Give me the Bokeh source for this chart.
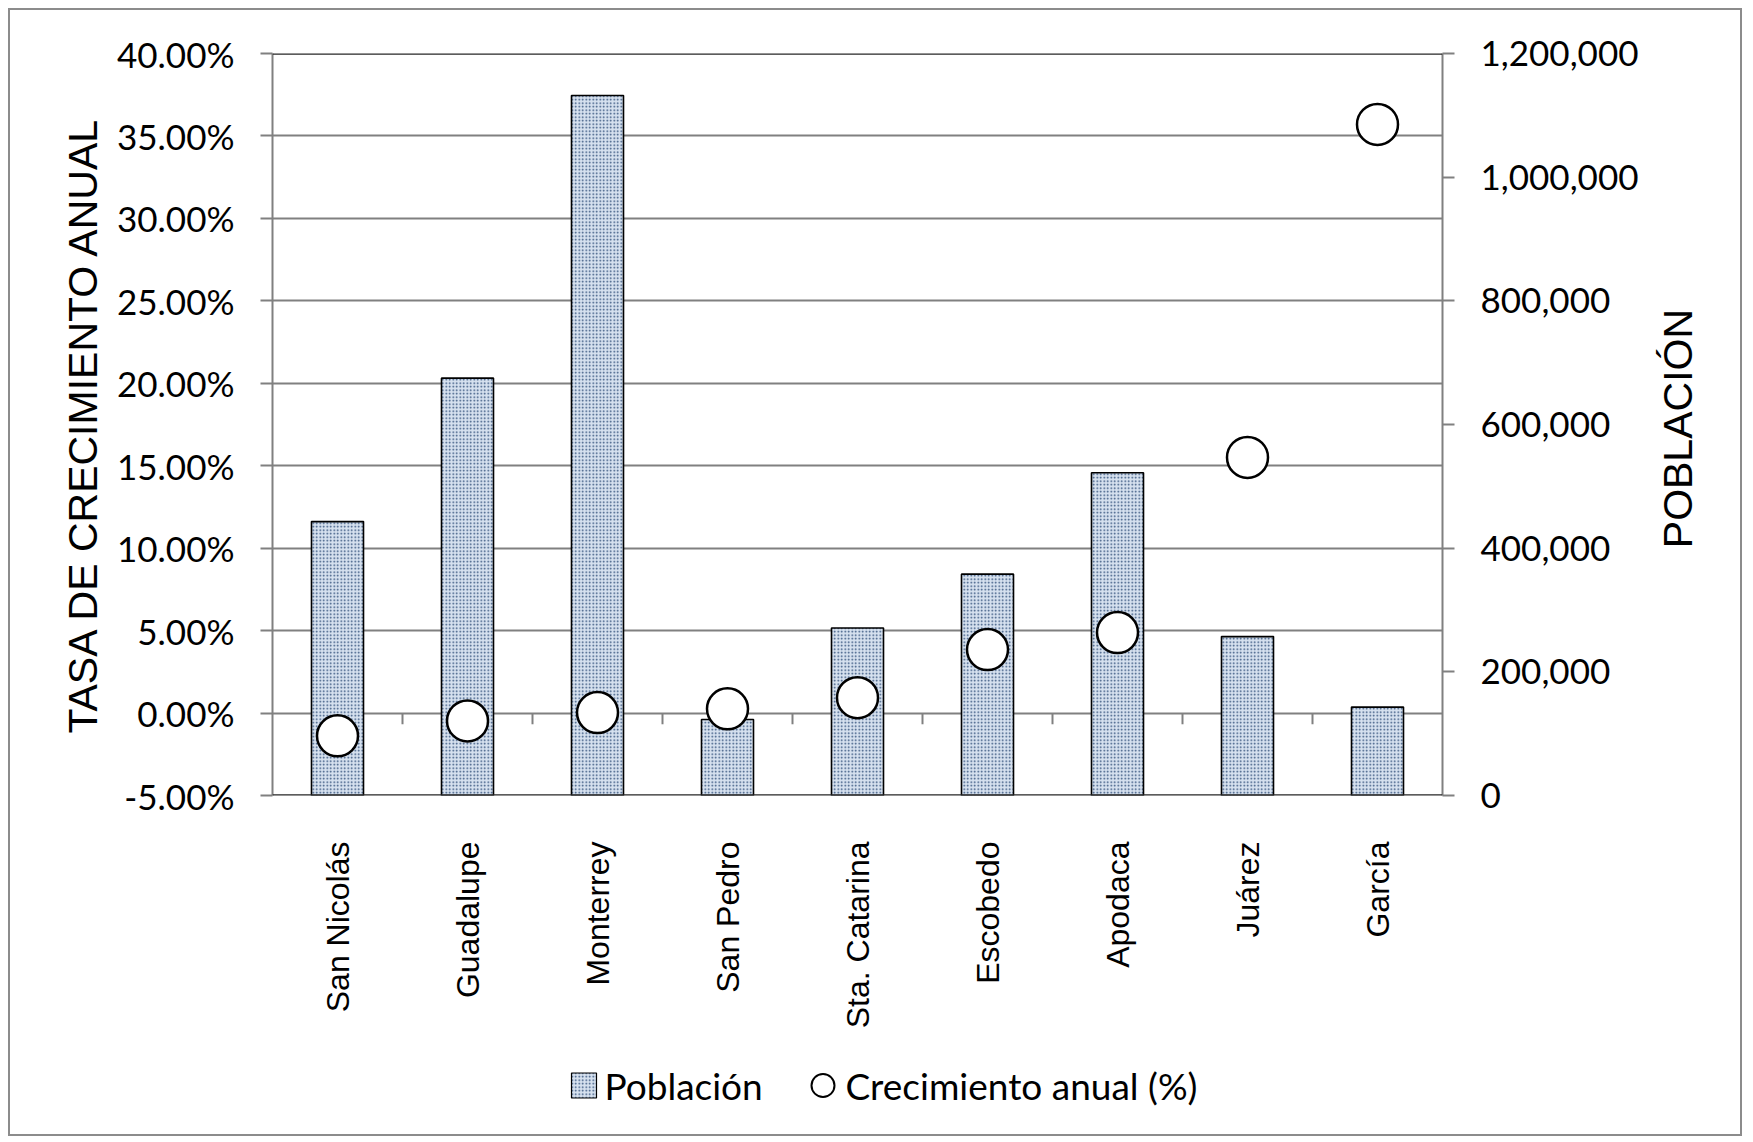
import math
from bokeh.plotting import figure
from bokeh.layouts import column, row
from bokeh.models import (Range1d, LinearAxis, FactorRange, FixedTicker,
                          NumeralTickFormatter, Span)
from bokeh.core.properties import value
from bokeh.embed import file_html
from bokeh.resources import INLINE

municipios = ["San Nicolás", "Guadalupe", "Monterrey", "San Pedro", "Sta. Catarina",
              "Escobedo", "Apodaca", "Juárez", "García"]
poblacion = [443000, 675000, 1132000, 123000, 271000, 358000, 522000, 257000, 143000]
crecimiento = [-0.0138, -0.0048, 0.0003, 0.0026, 0.0093, 0.0385, 0.0488, 0.1550, 0.3570]
pct_ticks = [-0.05, 0.0, 0.05, 0.10, 0.15, 0.20, 0.25, 0.30, 0.35, 0.40]
pop_ticks = [0, 200000, 400000, 600000, 800000, 1000000, 1200000]
legend_labels = ["Población", "Crecimiento anual (%)"]
right_title = "POBLACIÓN"

GRID = "#808080"
DARK = "#262626"
BAR_STYLE = dict(fill_color="#d6e1ef", hatch_pattern="dot", hatch_color="#2f4e78",
                 hatch_scale=3.5, hatch_weight=1.3, line_color="black", line_width=1.6)
PT_STYLE = dict(fill_color="white", line_color="black")

W = 1730
ML, MR = 262, 298
H1, H2, H3 = 815, 225, 84
FW = W - ML - MR
TW = 90                 # width of the strip holding the right-hand title
PW = W - TW

xr = FactorRange(*municipios)

# ---------------- main chart ----------------
p = figure(x_range=xr, y_range=Range1d(pct_ticks[0], pct_ticks[-1]),
           width=PW, height=H1, output_backend="svg", toolbar_location=None,
           x_axis_location=None,
           min_border_left=ML, min_border_right=MR - TW, min_border_top=43, min_border_bottom=30,
           background_fill_color="white", border_fill_color="white")
p.outline_line_color = None
p.extra_y_ranges = {"pop": Range1d(pop_ticks[0], pop_ticks[-1])}

p.xgrid.grid_line_color = None
p.ygrid.ticker = FixedTicker(ticks=pct_ticks)
p.ygrid.grid_line_color = GRID
p.ygrid.grid_line_width = 2

ya = p.yaxis[0]
ya.ticker = FixedTicker(ticks=pct_ticks)
ya.formatter = NumeralTickFormatter(format="0.00%")
ya.axis_label = "TASA DE CRECIMIENTO ANUAL"

ra = LinearAxis(y_range_name="pop", ticker=FixedTicker(ticks=pop_ticks),
                formatter=NumeralTickFormatter(format="0,0"))
p.add_layout(ra, "right")

for ax in [ya, ra]:
    ax.axis_line_color = GRID
    ax.axis_line_width = 2
    ax.major_tick_line_color = GRID
    ax.major_tick_line_width = 2
    ax.major_tick_in = 0
    ax.major_tick_out = 12
    ax.minor_tick_line_color = None
    ax.major_label_text_font = "Lato"
    ax.major_label_text_font_size = "35px"
    ax.major_label_text_color = "black"
    ax.major_label_standoff = 26
    ax.axis_label_text_font = "Liberation Sans"
    ax.axis_label_text_font_size = "41px"
    ax.axis_label_text_font_style = "normal"
    ax.axis_label_text_color = "black"
ya.axis_label_standoff = 8

bars = p.vbar(x=municipios, top=poblacion, bottom=0, width=0.4, y_range_name="pop", **BAR_STYLE)

# category boundary tick marks on the 0% line
bx = [(c, 0.5) for c in municipios[:-1]]
p.segment(x0=bx, x1=bx, y0=[0.0] * len(bx), y1=[-0.0068] * len(bx),
          line_color=GRID, line_width=2)

p.add_layout(Span(location=pct_ticks[-1], dimension="width", line_color=DARK, line_width=2.5))
p.add_layout(Span(location=pct_ticks[0], dimension="width", line_color=DARK, line_width=2.5))

pts = p.scatter(x=municipios, y=crecimiento, size=41, marker="circle", line_width=2.5, **PT_STYLE)

# ---------------- right-hand axis title ----------------
s = figure(x_range=Range1d(0, TW), y_range=Range1d(0, H1), width=TW, height=H1,
           output_backend="svg", toolbar_location=None,
           x_axis_location=None, y_axis_location=None,
           min_border_left=0, min_border_right=0, min_border_top=0, min_border_bottom=0,
           background_fill_color="white", border_fill_color="white")
s.outline_line_color = None
s.grid.visible = False
s.text(x=[27], y=[H1 - 412], text=[right_title], angle=math.pi / 2,
       text_align="center", text_baseline="middle",
       text_font=value("Liberation Sans"), text_font_size="41px", text_color="black")

# ---------------- category labels ----------------
q = figure(x_range=xr, y_range=Range1d(0, H2), width=W, height=H2,
           output_backend="svg", toolbar_location=None,
           x_axis_location=None, y_axis_location=None,
           min_border_left=ML, min_border_right=MR, min_border_top=0, min_border_bottom=0,
           background_fill_color="white", border_fill_color="white")
q.outline_line_color = None
q.grid.visible = False
q.text(x=municipios, y=[H2 - 16] * len(municipios), text=municipios,
       angle=math.pi / 2, text_align="right", text_baseline="middle",
       text_font=value("Liberation Sans"), text_font_size="32px", text_color="black")

# ---------------- legend ----------------
r = figure(x_range=Range1d(0, FW), y_range=Range1d(0, H3), width=W, height=H3,
           output_backend="svg", toolbar_location=None,
           x_axis_location=None, y_axis_location=None,
           min_border_left=ML, min_border_right=MR, min_border_top=0, min_border_bottom=0,
           background_fill_color="white", border_fill_color="white")
r.outline_line_color = None
r.grid.visible = False
ly = H3 - 35
r.rect(x=[311.5], y=[ly], width=25, height=25, **dict(BAR_STYLE, line_width=1.2))
r.text(x=[332], y=[ly], text=[legend_labels[0]],
       text_align="left", text_baseline="middle",
       text_font=value("Lato"), text_font_size="37px", text_color="black")
r.scatter(x=[550.5], y=[ly], size=23, marker="circle", line_width=2, **PT_STYLE)
r.text(x=[573], y=[ly], text=[legend_labels[1]],
       text_align="left", text_baseline="middle",
       text_font=value("Lato"), text_font_size="37px", text_color="black")

layout = column(row(p, s, spacing=0), q, r, spacing=0)
layout.styles = {"border": "2px solid #8c8c8c", "margin-left": "8px", "margin-top": "8px"}

open("out.html", "w").write(file_html(layout, INLINE))
